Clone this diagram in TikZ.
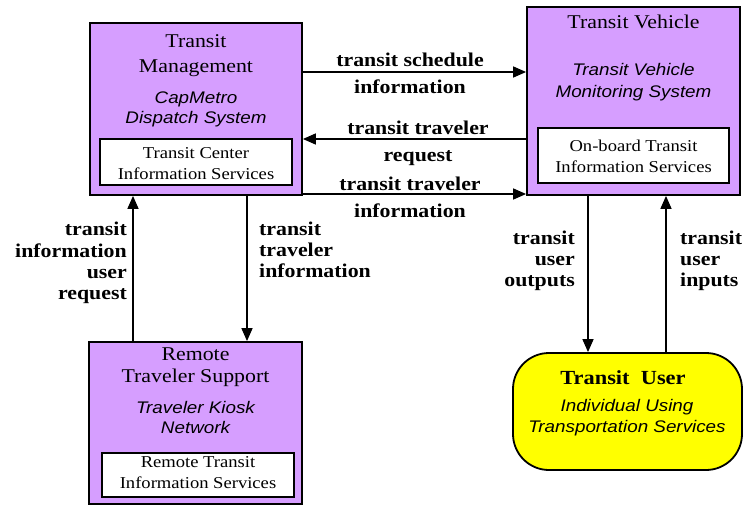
\documentclass[tikz,border=0pt]{standalone}
\usepackage{fontspec}
\setmainfont[FakeStretch=1.12]{Liberation Serif}
\newfontfamily\helvit[FakeStretch=1.12,UprightFont=*-Italic]{Liberation Sans}
\usetikzlibrary{arrows.meta}
\definecolor{subsys}{RGB}{214,158,255}
\definecolor{termfill}{RGB}{255,255,0}
\begin{document}
\begin{tikzpicture}[x=1pt,y=-1pt,
  subsysbox/.style={draw=black,line width=1.8pt,fill=subsys,rectangle,inner sep=0pt},
  eqbox/.style={draw=black,line width=1.4pt,fill=white,rectangle,inner sep=0pt},
  termbox/.style={draw=black,line width=1.8pt,fill=termfill,rectangle,rounded corners=36pt,inner sep=0pt},
  titletxt/.style={anchor=base,inner sep=0pt,font=\fontsize{19.5}{23}\selectfont},
  systxt/.style={anchor=base,inner sep=0pt,font=\helvit\fontsize{16.8}{20}\selectfont},
  eqtxt/.style={anchor=base,inner sep=0pt,font=\fontsize{16.6}{20}\selectfont},
  flowtxt/.style={anchor=base,inner sep=0pt,font=\bfseries\fontsize{19.5}{21}\selectfont},
  flow/.style={line width=1.5pt,-{Triangle[length=13pt,width=11pt]}}]
\useasboundingbox (0,0) rectangle (748,506);

% subsystem boxes
\node[subsysbox,minimum width=212pt,minimum height=172pt] (tm) at (196,109) {};
\node[eqbox,minimum width=192pt,minimum height=46pt] (tmeq) at (196,162) {};
\node[subsysbox,minimum width=213pt,minimum height=188pt] (tv) at (633.5,101) {};
\node[eqbox,minimum width=191pt,minimum height=55pt] (tveq) at (633.5,155.5) {};
\node[subsysbox,minimum width=213pt,minimum height=162pt] (rts) at (195.5,423) {};
\node[eqbox,minimum width=192pt,minimum height=44pt] (rtseq) at (198,475) {};
\node[termbox,minimum width=229pt,minimum height=117pt] (tu) at (627.5,411.5) {};

% Transit Management
\node[titletxt] (tmt1) at (196,47) {Transit};
\node[titletxt] (tmt2) at (196,72) {Management};
\node[systxt] (tms1) at (196,103) {CapMetro};
\node[systxt] (tms2) at (196,123) {Dispatch System};
\node[eqtxt] (tme1) at (196,158) {Transit Center};
\node[eqtxt] (tme2) at (196,179) {Information Services};

% Transit Vehicle
\node[titletxt] (tvt1) at (633.5,28) {Transit Vehicle};
\node[systxt] (tvs1) at (633.5,75) {Transit Vehicle};
\node[systxt] (tvs2) at (633.5,97) {Monitoring System};
\node[eqtxt] (tve1) at (633.5,151) {On-board Transit};
\node[eqtxt] (tve2) at (633.5,172) {Information Services};

% Remote Traveler Support
\node[titletxt] (rtst1) at (195.5,360) {Remote};
\node[titletxt] (rtst2) at (195.5,382) {Traveler Support};
\node[systxt] (rtss1) at (195.5,413) {Traveler Kiosk};
\node[systxt] (rtss2) at (195.5,433) {Network};
\node[eqtxt] (rtse1) at (198,467) {Remote Transit};
\node[eqtxt] (rtse2) at (198,488) {Information Services};

% Transit User
\node[anchor=base,inner sep=0pt,font=\bfseries\fontsize{20}{24}\selectfont] (tut) at (623,384) {Transit\ \ User};
\node[systxt] (tus1) at (627,411) {Individual Using};
\node[systxt] (tus2) at (627,432) {Transportation Services};

% flows between Transit Management and Transit Vehicle
\draw[flow] (tm.east |- 0,72) -- (tv.west |- 0,72);
\node[flowtxt] (f1a) at (410,66) {transit schedule};
\node[flowtxt] (f1b) at (410,93) {information};
\draw[flow] (tv.west |- 0,139) -- (tm.east |- 0,139);
\node[flowtxt] (f2a) at (418,134) {transit traveler};
\node[flowtxt] (f2b) at (418,161) {request};
\draw[flow] (tm.east |- 0,194) -- (tv.west |- 0,194);
\node[flowtxt] (f3a) at (410,190) {transit traveler};
\node[flowtxt] (f3b) at (410,217) {information};

% flows between Transit Management and Remote Traveler Support
\draw[flow] (rts.north -| 133,0) -- (tm.south -| 133,0);
\node[flowtxt,anchor=base east] (f4a) at (127,235) {transit};
\node[flowtxt,anchor=base east] (f4b) at (127,257) {information};
\node[flowtxt,anchor=base east] (f4c) at (127,278) {user};
\node[flowtxt,anchor=base east] (f4d) at (127,299) {request};
\draw[flow] (tm.south -| 247,0) -- (rts.north -| 247,0);
\node[flowtxt,anchor=base west] (f5a) at (259,235) {transit};
\node[flowtxt,anchor=base west] (f5b) at (259,256) {traveler};
\node[flowtxt,anchor=base west] (f5c) at (259,277) {information};

% flows between Transit Vehicle and Transit User
\draw[flow] (tv.south -| 588,0) -- (tu.north -| 588,0);
\node[flowtxt,anchor=base east] (f6a) at (575,244) {transit};
\node[flowtxt,anchor=base east] (f6b) at (575,265) {user};
\node[flowtxt,anchor=base east] (f6c) at (575,286) {outputs};
\draw[flow] (tu.north -| 666,0) -- (tv.south -| 666,0);
\node[flowtxt,anchor=base west] (f7a) at (680,244) {transit};
\node[flowtxt,anchor=base west] (f7b) at (680,265) {user};
\node[flowtxt,anchor=base west] (f7c) at (680,286) {inputs};
\end{tikzpicture}
\end{document}
